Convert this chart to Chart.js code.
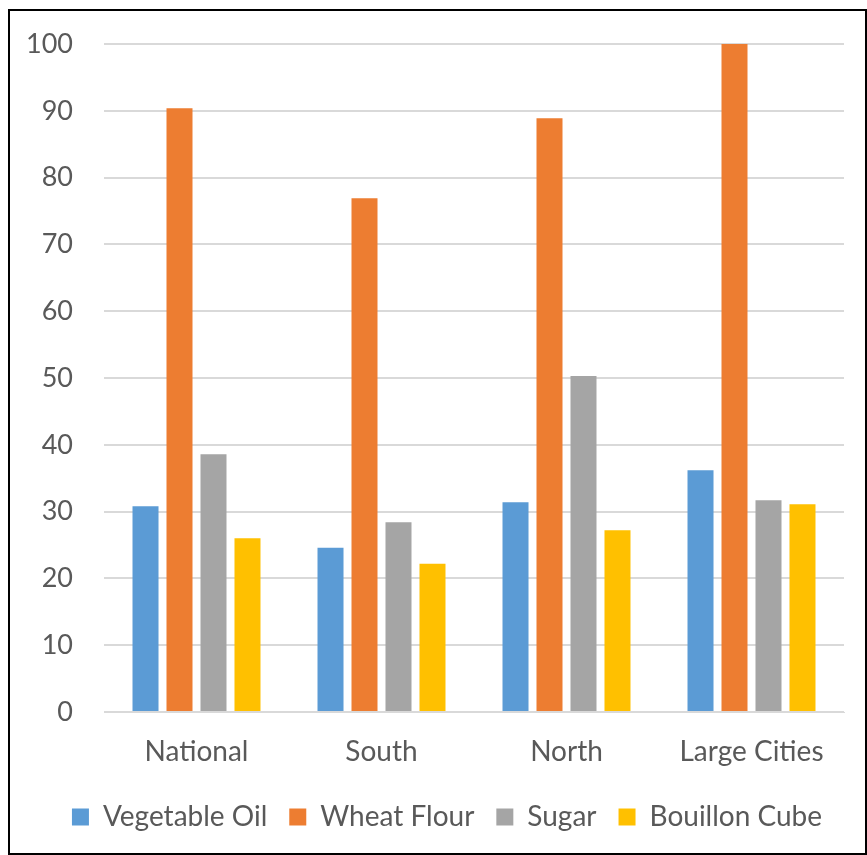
<!DOCTYPE html>
<html>
<head>
<meta charset="utf-8">
<script src="https://cdn.jsdelivr.net/npm/chart.js@4"></script>
<style>
  html, body { margin: 0; padding: 0; background: #fff; }
  #wrap { position: relative; width: 867px; height: 855px; }
  #frame { position: absolute; left: 8px; top: 9px; width: 855px; height: 842px; border: 2px solid #000; pointer-events: none; }
  canvas { position: absolute; left: 0; top: 0; }
</style>
</head>
<body>
<div id="wrap">
  <canvas id="chart" width="867" height="855"></canvas>
  <div id="frame"></div>
</div>
<script>
// Regions shown along the x axis
const categories = ["National", "South", "North", "Large Cities"];

// Values per commodity, one entry per region
const vegetableOil = [30.8, 24.6, 31.4, 36.2];
const wheatFlour   = [90.4, 76.9, 88.9, 100.0];
const sugar        = [38.6, 28.4, 50.3, 31.7];
const bouillonCube = [26.0, 22.2, 27.2, 31.1];

// Y axis ticks
const yTicks = [0, 10, 20, 30, 40, 50, 60, 70, 80, 90, 100];

const FONT = "Lato, 'Open Sans', sans-serif";
const TEXT = "#595959";

const series = [
  { label: "Vegetable Oil", data: vegetableOil, color: "#5B9BD5" },
  { label: "Wheat Flour",   data: wheatFlour,   color: "#ED7D31" },
  { label: "Sugar",         data: sugar,        color: "#A5A5A5" },
  { label: "Bouillon Cube", data: bouillonCube, color: "#FFC000" }
];

// Nudge the legend row to the right so it sits under the plot area
const legendShift = {
  id: "legendShift",
  afterLayout(chart) {
    const lg = chart.legend;
    if (lg) { lg.left += 25; lg.right += 25; }
  }
};

new Chart(document.getElementById("chart"), {
  type: "bar",
  data: {
    labels: categories,
    datasets: series.map(s => ({
      label: s.label,
      data: s.data,
      backgroundColor: s.color,
      borderWidth: 0,
      barPercentage: 0.765,
      categoryPercentage: 0.735
    }))
  },
  plugins: [legendShift],
  options: {
    responsive: false,
    animation: false,
    devicePixelRatio: 1,
    layout: { padding: { left: 0, right: 23, top: 44, bottom: 14 } },
    plugins: {
      tooltip: { enabled: false },
      legend: {
        position: "bottom",
        labels: {
          color: TEXT,
          font: { family: FONT, size: 28 },
          boxWidth: 17,
          boxHeight: 17,
          padding: 22
        }
      }
    },
    scales: {
      x: {
        grid: { display: false, drawTicks: false },
        border: { display: true, color: "#D9D9D9", width: 1 },
        afterFit: axis => { axis.height -= 10.6; },
        ticks: {
          color: TEXT,
          font: { family: FONT, size: 28 },
          padding: 23,
          maxRotation: 0
        }
      },
      y: {
        min: 0,
        max: 100,
        afterBuildTicks: axis => { axis.ticks = yTicks.map(v => ({ value: v })); },
        afterFit: axis => { axis.width = 104; axis.paddingTop = 0; },
        grid: { color: "#D9D9D9", lineWidth: 2, drawTicks: false },
        border: { display: false },
        ticks: {
          color: TEXT,
          font: { family: FONT, size: 27 },
          padding: 31
        }
      }
    }
  }
});
</script>
</body>
</html>
